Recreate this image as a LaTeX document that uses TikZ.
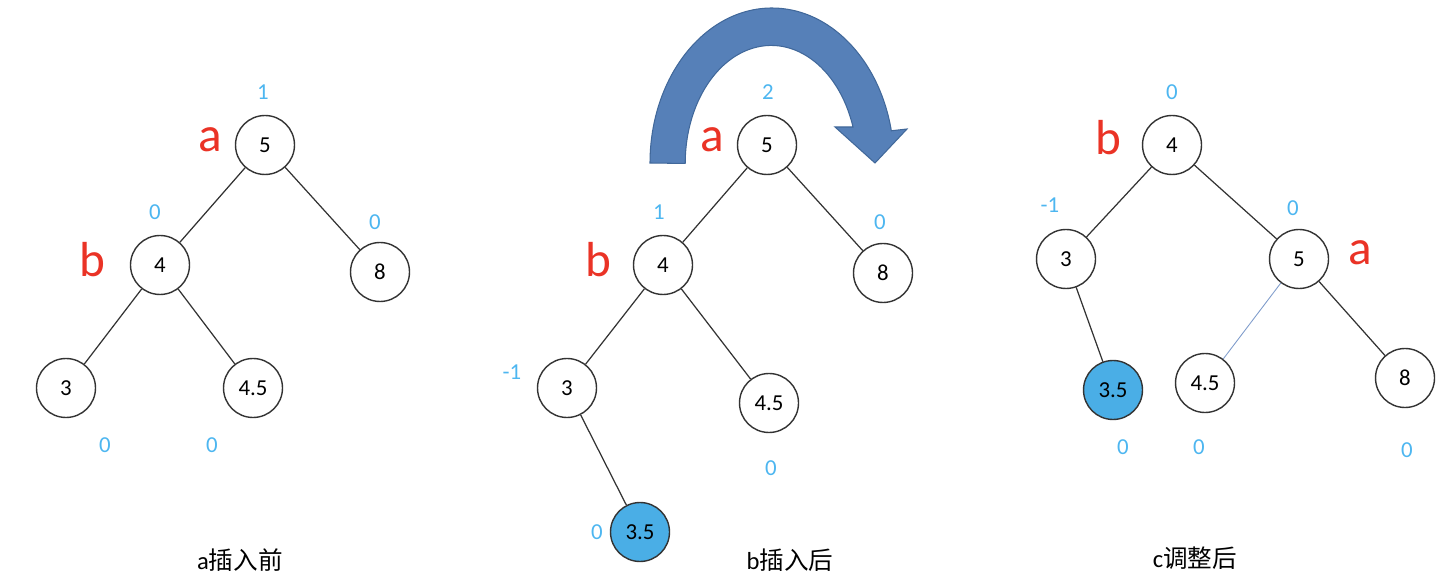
\documentclass[tikz,border=0pt]{standalone}
\usepackage{fontspec}
\setmainfont{Carlito}
\newfontfamily\cjk{Noto Sans CJK SC}
\definecolor{edgegray}{HTML}{333333}
\definecolor{balblue}{HTML}{4DB6F0}
\definecolor{tagred}{HTML}{EA3326}
\definecolor{newblue}{HTML}{4AAEE6}
\definecolor{arrowfill}{HTML}{5680B8}
\definecolor{arrowedge}{HTML}{41689A}
\definecolor{thinblue}{HTML}{7F9CCB}
\begin{document}
\begin{tikzpicture}
        [x=0.02cm, y=-0.02cm,
        node/.style={circle,draw=edgegray,line width=0.8pt,minimum size=1.18cm,inner sep=0pt,font=\fontsize{13}{15}\selectfont},
        nodeBlue/.style={node,fill=newblue},
        bf/.style={text=balblue,font=\fontsize{13}{15}\selectfont},
        tag/.style={text=tagred,font=\fontsize{28}{30}\selectfont},
        caption/.style={font=\fontsize{14}{16}\selectfont},
        edge/.style={draw=edgegray,line width=0.7pt}]
        \useasboundingbox (0,0) rectangle (1456,580);

        % a: before insertion
        \node[node] (A5) at (265,145) {5};
        \node[node] (A4) at (160,265) {4};
        \node[node] (A8) at (380,272) {8};
        \node[node] (A3) at (66,388) {3};
        \node[node] (A45) at (253,388) {4.5};

        \draw[edge] (A5) -- (A4);
        \draw[edge] (A5) -- (A8);
        \draw[edge] (A4) -- (A3);
        \draw[edge] (A4) -- (A45);

        \node[bf] (A5bf) at (263,92) {1};
        \node[bf] (A4bf) at (155,212) {0};
        \node[bf] (A8bf) at (375,222) {0};
        \node[bf] (A3bf) at (105,445) {0};
        \node[bf] (A45bf) at (212,445) {0};
        \node[tag] (Aa) at (210,140) {a};
        \node[tag] (Ab) at (92,260) {b};
        \node[caption] (Acap) at (240,560) {a{\cjk 插入前}};

        % b: after insertion
        \fill[arrowfill, draw=arrowedge, line width=0.6pt]
            (650,163) arc[start angle=180, end angle=348, x radius=122, y radius=155]
            -- (907,129) -- (875,163) -- (835,127) -- (853,127)
            arc[start angle=342, end angle=180, x radius=86, y radius=118] -- cycle;

        \node[node] (B5) at (767,145) {5};
        \node[node] (B4) at (663,265) {4};
        \node[node] (B8) at (883,273) {8};
        \node[node] (B3) at (567,388) {3};
        \node[node] (B45) at (769,403) {4.5};
        \node[nodeBlue] (B35) at (640,532) {3.5};

        \draw[edge] (B5) -- (B4);
        \draw[edge] (B5) -- (B8);
        \draw[edge] (B4) -- (B3);
        \draw[edge] (B4) -- (B45);
        \draw[edge] (B3) -- (B35);

        \node[bf] (B5bf) at (768,92) {2};
        \node[bf] (B4bf) at (659,212) {1};
        \node[bf] (B8bf) at (880,222) {0};
        \node[bf] (B3bf) at (512,372) {-1};
        \node[bf] (B45bf) at (771,468) {0};
        \node[bf] (B35bf) at (597,532) {0};
        \node[tag] (Ba) at (712,140) {a};
        \node[tag] (Bb) at (598,260) {b};
        \node[caption] (Bcap) at (790,560) {b{\cjk 插入后}};

        % c: after rotation
        \node[node] (C4) at (1172,145) {4};
        \node[node] (C3) at (1066,259) {3};
        \node[node] (C5) at (1299,259) {5};
        \node[nodeBlue] (C35) at (1113,390) {3.5};
        \node[node] (C45) at (1205,383) {4.5};
        \node[node] (C8) at (1405,378) {8};

        \draw[edge] (C4) -- (C3);
        \draw[edge] (C4) -- (C5);
        \draw[edge] (C3) -- (C35);
        \draw[thinblue, line width=0.5pt] (C5) -- (C45);
        \draw[edge] (C5) -- (C8);

        \node[bf] (C4bf) at (1172,92) {0};
        \node[bf] (C3bf) at (1050,205) {-1};
        \node[bf] (C5bf) at (1293,208) {0};
        \node[bf] (C35bf) at (1123,447) {0};
        \node[bf] (C45bf) at (1199,447) {0};
        \node[bf] (C8bf) at (1407,450) {0};
        \node[tag] (Cb) at (1108,138) {b};
        \node[tag] (Ca) at (1360,253) {a};
        \node[caption] (Ccap) at (1195,558) {c{\cjk 调整后}};
    \end{tikzpicture}
\end{document}
